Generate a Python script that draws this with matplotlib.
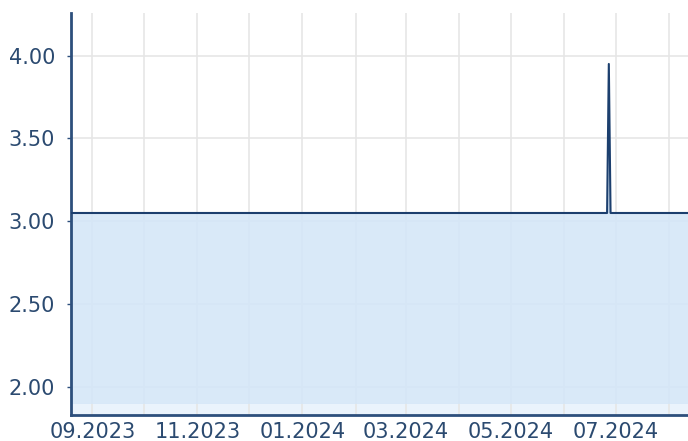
import matplotlib
matplotlib.use("Agg")
import matplotlib.pyplot as plt
import matplotlib.dates as mdates
import numpy as np
import pandas as pd

# Data
dates = ["2023-08-19", "2024-06-26", "2024-06-27", "2024-06-28", "2024-08-12"]
values = [3.05, 3.05, 3.95, 3.05, 3.05]
y_ticks = [2.00, 2.50, 3.00, 3.50, 4.00]
y_tick_labels = ["2.00", "2.50", "3.00", "3.50", "4.00"]
x_label_months = ["2023-09-01", "2023-11-01", "2024-01-01", "2024-03-01", "2024-05-01", "2024-07-01"]
x_labels = ["09.2023", "11.2023", "01.2024", "03.2024", "05.2024", "07.2024"]
fill_base = 1.9

x = pd.to_datetime(dates)
y = np.array(values)

line_col = "#1c3f6e"
text_col = "#2b4a70"
spine_col = "#2d4f7c"

fig = plt.figure(figsize=(6.88, 4.41), dpi=100)
ax = fig.add_axes([70.5 / 688, 1 - 414.5 / 441, 1 - 70.5 / 688, (414.5 - 13.3) / 441])

ax.set_xlim(pd.Timestamp("2023-08-19 06:00"), pd.Timestamp("2024-08-12"))
ax.set_ylim(1.833, 4.256)

# light band below fill baseline
ax.axhspan(1.833, fill_base, color="#eaf3fc", zorder=0.2, lw=0)
ax.fill_between(x, fill_base, y, color=(212 / 255, 230 / 255, 248 / 255), alpha=0.88, lw=0, zorder=1)
ax.plot(x, y, color=line_col, lw=1.5, zorder=3)

# grid
ax.xaxis.set_minor_locator(mdates.MonthLocator())
ax.set_xticks(pd.to_datetime(x_label_months))
ax.set_xticklabels(x_labels)
ax.set_yticks(y_ticks)
ax.set_yticklabels(y_tick_labels)
ax.grid(True, which="both", axis="x", color="#e6e6e6", lw=1.2)
ax.grid(True, which="major", axis="y", color="#e6e6e6", lw=1.2)
ax.set_axisbelow(True)

for s in ["top", "right"]:
    ax.spines[s].set_visible(False)
for s in ["left", "bottom"]:
    ax.spines[s].set_color(spine_col)
    ax.spines[s].set_linewidth(2)

ax.tick_params(axis="y", which="major", length=3, width=1, color=spine_col, pad=8,
               labelsize=15, labelcolor=text_col)
ax.tick_params(axis="x", which="both", length=0, pad=5.5, labelsize=15, labelcolor=text_col)

fig.savefig("out.png", dpi=100)
